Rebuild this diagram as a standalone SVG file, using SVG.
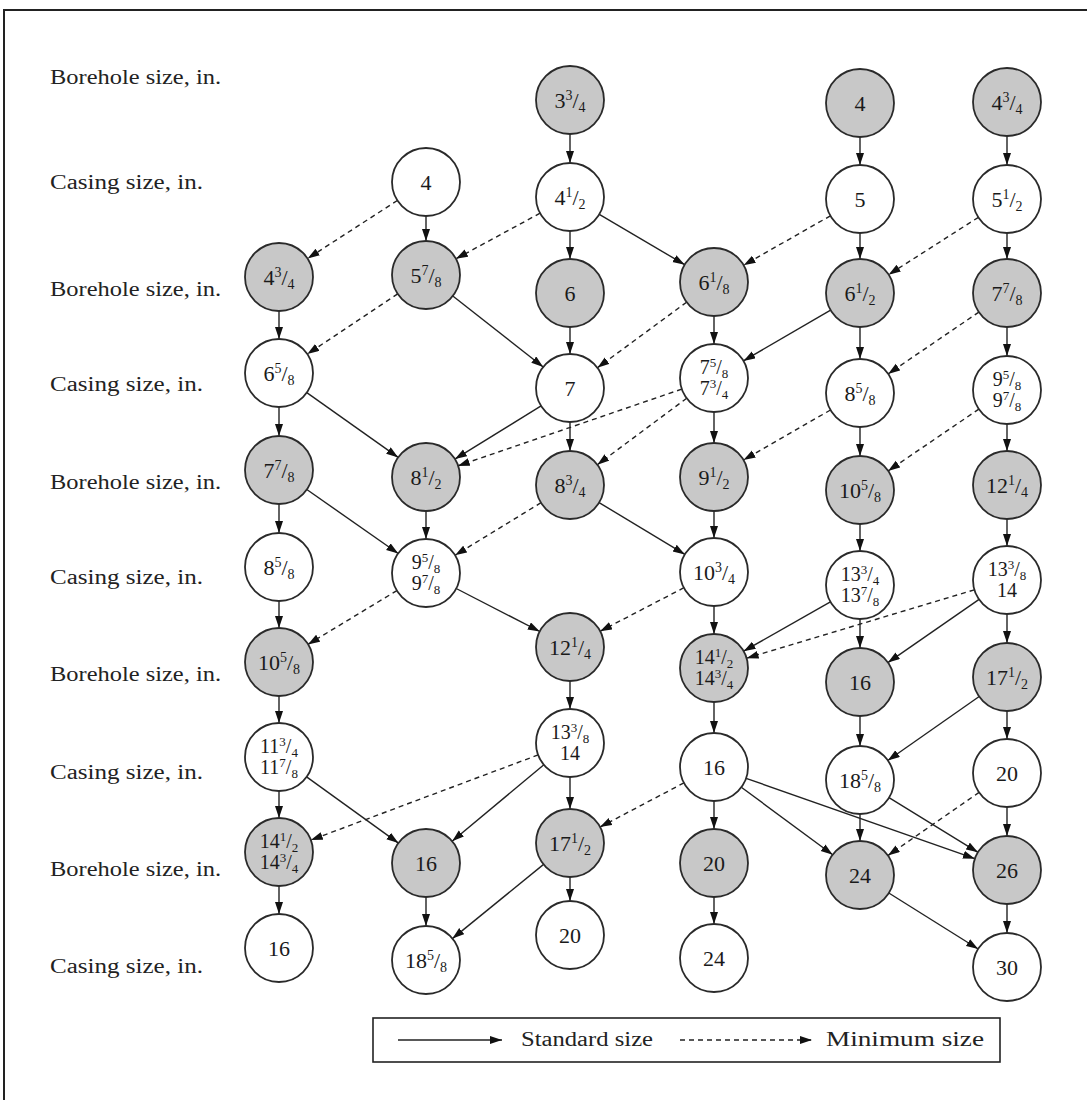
<svg xmlns="http://www.w3.org/2000/svg" width="1087" height="1100" viewBox="0 0 1087 1100">
<style>
.bg{fill:#fff}
.frame{fill:none;stroke:#222;stroke-width:2}
.lab{font-family:"Liberation Serif","Times New Roman",serif;font-size:20px;fill:#222}
circle{stroke:#2a2a2a;stroke-width:1.8}
.g circle{fill:#c8c8c8}
.w circle{fill:#fff}
.t{font-family:"Liberation Serif","Times New Roman",serif;font-size:22px;text-anchor:middle;fill:#1a1a1a}
.t2{font-family:"Liberation Serif","Times New Roman",serif;font-size:20px;text-anchor:middle;fill:#1a1a1a}
.s{font-size:14px}
.s2{font-size:13px}
#edges line{stroke:#222;stroke-width:1.4;marker-end:url(#ah)}
#edges line.d{stroke-dasharray:5 4}
.leg line{stroke:#222;stroke-width:1.4;marker-end:url(#ah)}
.leg line.d{stroke-dasharray:5 4}
</style>
<defs>
<marker id="ah" markerUnits="userSpaceOnUse" markerWidth="13" markerHeight="9" refX="12" refY="4" orient="auto">
<path d="M0,0 L12,4 L0,8 z" fill="#111"/>
</marker>
</defs>
<rect class="bg" x="0" y="0" width="1087" height="1100"/>
<path class="frame" d="M4,1100 V10 H1087"/>

<g id="row-labels">
<text class="lab" x="50" y="84" textLength="171" lengthAdjust="spacingAndGlyphs">Borehole size, in.</text>
<text class="lab" x="50" y="189" textLength="153" lengthAdjust="spacingAndGlyphs">Casing size, in.</text>
<text class="lab" x="50" y="296" textLength="171" lengthAdjust="spacingAndGlyphs">Borehole size, in.</text>
<text class="lab" x="50" y="391" textLength="153" lengthAdjust="spacingAndGlyphs">Casing size, in.</text>
<text class="lab" x="50" y="489" textLength="171" lengthAdjust="spacingAndGlyphs">Borehole size, in.</text>
<text class="lab" x="50" y="584" textLength="153" lengthAdjust="spacingAndGlyphs">Casing size, in.</text>
<text class="lab" x="50" y="681" textLength="171" lengthAdjust="spacingAndGlyphs">Borehole size, in.</text>
<text class="lab" x="50" y="779" textLength="153" lengthAdjust="spacingAndGlyphs">Casing size, in.</text>
<text class="lab" x="50" y="876" textLength="171" lengthAdjust="spacingAndGlyphs">Borehole size, in.</text>
<text class="lab" x="50" y="973" textLength="153" lengthAdjust="spacingAndGlyphs">Casing size, in.</text>
</g>

<g id="edges">
<line x1="570" y1="134" x2="570" y2="163"/>
<line x1="860" y1="137" x2="860" y2="165"/>
<line x1="1007" y1="136" x2="1007" y2="165"/>
<line x1="426" y1="216" x2="426" y2="241"/>
<line x1="570" y1="231" x2="570" y2="259"/>
<line x1="860" y1="233" x2="860" y2="259"/>
<line x1="1007" y1="233" x2="1007" y2="259"/>
<line x1="279" y1="311" x2="279" y2="339"/>
<line x1="570" y1="327" x2="570" y2="354"/>
<line x1="714" y1="316" x2="714" y2="344"/>
<line x1="860" y1="327" x2="860" y2="359"/>
<line x1="1007" y1="327" x2="1007" y2="356"/>
<line x1="279" y1="407" x2="279" y2="436"/>
<line x1="570" y1="422" x2="570" y2="451"/>
<line x1="714" y1="412" x2="714" y2="443"/>
<line x1="860" y1="427" x2="860" y2="456"/>
<line x1="1007" y1="424" x2="1007" y2="451"/>
<line x1="279" y1="504" x2="279" y2="533"/>
<line x1="426" y1="511" x2="426" y2="539"/>
<line x1="714" y1="511" x2="714" y2="538"/>
<line x1="860" y1="524" x2="860" y2="551"/>
<line x1="1007" y1="519" x2="1007" y2="546"/>
<line x1="279" y1="601" x2="279" y2="628"/>
<line x1="714" y1="606" x2="714" y2="634"/>
<line x1="860" y1="619" x2="860" y2="648"/>
<line x1="1007" y1="614" x2="1007" y2="643"/>
<line x1="279" y1="696" x2="279" y2="723"/>
<line x1="570" y1="681" x2="570" y2="709"/>
<line x1="714" y1="702" x2="714" y2="733"/>
<line x1="860" y1="716" x2="860" y2="746"/>
<line x1="1007" y1="711" x2="1007" y2="739"/>
<line x1="279" y1="791" x2="279" y2="818"/>
<line x1="570" y1="777" x2="570" y2="809"/>
<line x1="714" y1="801" x2="714" y2="829"/>
<line x1="860" y1="814" x2="860" y2="841"/>
<line x1="1007" y1="807" x2="1007" y2="836"/>
<line x1="279" y1="886" x2="279" y2="914"/>
<line x1="426" y1="897" x2="426" y2="926"/>
<line x1="570" y1="877" x2="570" y2="901"/>
<line x1="714" y1="897" x2="714" y2="924"/>
<line x1="1007" y1="904" x2="1007" y2="933"/>
<line x1="599.3" y1="214.3" x2="684.7" y2="264.7"/>
<line x1="452.8" y1="296" x2="543.2" y2="367"/>
<line x1="830.6" y1="310.1" x2="743.4" y2="360.9"/>
<line x1="306.8" y1="392.6" x2="398.2" y2="457.4"/>
<line x1="541.1" y1="405.9" x2="454.9" y2="459.1"/>
<line x1="306.8" y1="489.5" x2="398.2" y2="553.5"/>
<line x1="599.1" y1="502.6" x2="684.9" y2="554.4"/>
<line x1="456.2" y1="588.5" x2="539.8" y2="631.5"/>
<line x1="830.4" y1="601.8" x2="743.6" y2="651.2"/>
<line x1="979.1" y1="599.4" x2="887.9" y2="662.6"/>
<line x1="979.2" y1="696.5" x2="887.8" y2="760.5"/>
<line x1="306.6" y1="776.9" x2="398.4" y2="843.1"/>
<line x1="543.9" y1="764.8" x2="452.1" y2="841.2"/>
<line x1="741.3" y1="787.2" x2="832.7" y2="854.8"/>
<line x1="746.1" y1="778.3" x2="974.9" y2="858.7"/>
<line x1="889" y1="797.7" x2="978" y2="852.3"/>
<line x1="543.6" y1="864.4" x2="452.4" y2="938.6"/>
<line x1="888.8" y1="893" x2="978.2" y2="949"/>
<line class="d" x1="397.4" y1="200.5" x2="307.6" y2="258.5"/>
<line class="d" x1="540.1" y1="213.2" x2="455.9" y2="258.8"/>
<line class="d" x1="830.4" y1="215.8" x2="743.6" y2="265.2"/>
<line class="d" x1="978.4" y1="217.3" x2="888.6" y2="274.7"/>
<line class="d" x1="397.7" y1="293.9" x2="307.3" y2="354.1"/>
<line class="d" x1="686.6" y1="302.2" x2="597.4" y2="367.8"/>
<line class="d" x1="978.9" y1="312.1" x2="888.1" y2="373.9"/>
<line class="d" x1="681.8" y1="389.1" x2="457.8" y2="465.9"/>
<line class="d" x1="686.7" y1="398.3" x2="597.3" y2="464.7"/>
<line class="d" x1="830.5" y1="410" x2="743.5" y2="460"/>
<line class="d" x1="978.9" y1="409.1" x2="888.1" y2="470.9"/>
<line class="d" x1="541" y1="502.7" x2="455" y2="555.3"/>
<line class="d" x1="396.9" y1="590.6" x2="307.9" y2="644.4"/>
<line class="d" x1="683.9" y1="587.7" x2="600.1" y2="631.3"/>
<line class="d" x1="974.4" y1="589.8" x2="746.6" y2="658.2"/>
<line class="d" x1="538.2" y1="754.9" x2="310.8" y2="840.1"/>
<line class="d" x1="683.9" y1="782.9" x2="599.9" y2="827.1"/>
<line class="d" x1="979.1" y1="792.4" x2="887.9" y2="855.6"/>
</g>

<g id="n-b1-3-3-4" class="g"><circle cx="570" cy="100" r="34"/><text class="t" x="570" y="108">3<tspan class="s" dy="-8">3</tspan><tspan dy="8">/</tspan><tspan class="s" dy="4">4</tspan></text></g>
<g id="n-b1-4" class="g"><circle cx="860" cy="103" r="34"/><text class="t" x="860" y="111">4</text></g>
<g id="n-b1-4-3-4" class="g"><circle cx="1007" cy="102" r="34"/><text class="t" x="1007" y="110">4<tspan class="s" dy="-8">3</tspan><tspan dy="8">/</tspan><tspan class="s" dy="4">4</tspan></text></g>

<g id="n-c1-4" class="w"><circle cx="426" cy="182" r="34"/><text class="t" x="426" y="190">4</text></g>
<g id="n-c1-4-1-2" class="w"><circle cx="570" cy="197" r="34"/><text class="t" x="570" y="205">4<tspan class="s" dy="-8">1</tspan><tspan dy="8">/</tspan><tspan class="s" dy="4">2</tspan></text></g>
<g id="n-c1-5" class="w"><circle cx="860" cy="199" r="34"/><text class="t" x="860" y="207">5</text></g>
<g id="n-c1-5-1-2" class="w"><circle cx="1007" cy="199" r="34"/><text class="t" x="1007" y="207">5<tspan class="s" dy="-8">1</tspan><tspan dy="8">/</tspan><tspan class="s" dy="4">2</tspan></text></g>

<g id="n-b2-4-3-4" class="g"><circle cx="279" cy="277" r="34"/><text class="t" x="279" y="285">4<tspan class="s" dy="-8">3</tspan><tspan dy="8">/</tspan><tspan class="s" dy="4">4</tspan></text></g>
<g id="n-b2-5-7-8" class="g"><circle cx="426" cy="275" r="34"/><text class="t" x="426" y="283">5<tspan class="s" dy="-8">7</tspan><tspan dy="8">/</tspan><tspan class="s" dy="4">8</tspan></text></g>
<g id="n-b2-6" class="g"><circle cx="570" cy="293" r="34"/><text class="t" x="570" y="301">6</text></g>
<g id="n-b2-6-1-8" class="g"><circle cx="714" cy="282" r="34"/><text class="t" x="714" y="290">6<tspan class="s" dy="-8">1</tspan><tspan dy="8">/</tspan><tspan class="s" dy="4">8</tspan></text></g>
<g id="n-b2-6-1-2" class="g"><circle cx="860" cy="293" r="34"/><text class="t" x="860" y="301">6<tspan class="s" dy="-8">1</tspan><tspan dy="8">/</tspan><tspan class="s" dy="4">2</tspan></text></g>
<g id="n-b2-7-7-8" class="g"><circle cx="1007" cy="293" r="34"/><text class="t" x="1007" y="301">7<tspan class="s" dy="-8">7</tspan><tspan dy="8">/</tspan><tspan class="s" dy="4">8</tspan></text></g>

<g id="n-c2-6-5-8" class="w"><circle cx="279" cy="373" r="34"/><text class="t" x="279" y="381">6<tspan class="s" dy="-8">5</tspan><tspan dy="8">/</tspan><tspan class="s" dy="4">8</tspan></text></g>
<g id="n-c2-7" class="w"><circle cx="570" cy="388" r="34"/><text class="t" x="570" y="396">7</text></g>
<g id="n-c2-7-5-8" class="w"><circle cx="714" cy="378" r="34"/>
<text class="t2" x="714" y="374">7<tspan class="s2" dy="-7">5</tspan><tspan dy="7">/</tspan><tspan class="s2" dy="4">8</tspan></text>
<text class="t2" x="714" y="395">7<tspan class="s2" dy="-7">3</tspan><tspan dy="7">/</tspan><tspan class="s2" dy="4">4</tspan></text></g>
<g id="n-c2-8-5-8" class="w"><circle cx="860" cy="393" r="34"/><text class="t" x="860" y="401">8<tspan class="s" dy="-8">5</tspan><tspan dy="8">/</tspan><tspan class="s" dy="4">8</tspan></text></g>
<g id="n-c2-9-5-8" class="w"><circle cx="1007" cy="390" r="34"/>
<text class="t2" x="1007" y="386">9<tspan class="s2" dy="-7">5</tspan><tspan dy="7">/</tspan><tspan class="s2" dy="4">8</tspan></text>
<text class="t2" x="1007" y="407">9<tspan class="s2" dy="-7">7</tspan><tspan dy="7">/</tspan><tspan class="s2" dy="4">8</tspan></text></g>

<g id="n-b3-7-7-8" class="g"><circle cx="279" cy="470" r="34"/><text class="t" x="279" y="478">7<tspan class="s" dy="-8">7</tspan><tspan dy="8">/</tspan><tspan class="s" dy="4">8</tspan></text></g>
<g id="n-b3-8-1-2" class="g"><circle cx="426" cy="477" r="34"/><text class="t" x="426" y="485">8<tspan class="s" dy="-8">1</tspan><tspan dy="8">/</tspan><tspan class="s" dy="4">2</tspan></text></g>
<g id="n-b3-8-3-4" class="g"><circle cx="570" cy="485" r="34"/><text class="t" x="570" y="493">8<tspan class="s" dy="-8">3</tspan><tspan dy="8">/</tspan><tspan class="s" dy="4">4</tspan></text></g>
<g id="n-b3-9-1-2" class="g"><circle cx="714" cy="477" r="34"/><text class="t" x="714" y="485">9<tspan class="s" dy="-8">1</tspan><tspan dy="8">/</tspan><tspan class="s" dy="4">2</tspan></text></g>
<g id="n-b3-10-5-8" class="g"><circle cx="860" cy="490" r="34"/><text class="t" x="860" y="498">10<tspan class="s" dy="-8">5</tspan><tspan dy="8">/</tspan><tspan class="s" dy="4">8</tspan></text></g>
<g id="n-b3-12-1-4" class="g"><circle cx="1007" cy="485" r="34"/><text class="t" x="1007" y="493">12<tspan class="s" dy="-8">1</tspan><tspan dy="8">/</tspan><tspan class="s" dy="4">4</tspan></text></g>

<g id="n-c3-8-5-8" class="w"><circle cx="279" cy="567" r="34"/><text class="t" x="279" y="575">8<tspan class="s" dy="-8">5</tspan><tspan dy="8">/</tspan><tspan class="s" dy="4">8</tspan></text></g>
<g id="n-c3-9-5-8" class="w"><circle cx="426" cy="573" r="34"/>
<text class="t2" x="426" y="569">9<tspan class="s2" dy="-7">5</tspan><tspan dy="7">/</tspan><tspan class="s2" dy="4">8</tspan></text>
<text class="t2" x="426" y="590">9<tspan class="s2" dy="-7">7</tspan><tspan dy="7">/</tspan><tspan class="s2" dy="4">8</tspan></text></g>
<g id="n-c3-10-3-4" class="w"><circle cx="714" cy="572" r="34"/><text class="t" x="714" y="580">10<tspan class="s" dy="-8">3</tspan><tspan dy="8">/</tspan><tspan class="s" dy="4">4</tspan></text></g>
<g id="n-c3-13-3-4" class="w"><circle cx="860" cy="585" r="34"/>
<text class="t2" x="860" y="581">13<tspan class="s2" dy="-7">3</tspan><tspan dy="7">/</tspan><tspan class="s2" dy="4">4</tspan></text>
<text class="t2" x="860" y="602">13<tspan class="s2" dy="-7">7</tspan><tspan dy="7">/</tspan><tspan class="s2" dy="4">8</tspan></text></g>
<g id="n-c3-13-3-8" class="w"><circle cx="1007" cy="580" r="34"/>
<text class="t2" x="1007" y="576">13<tspan class="s2" dy="-7">3</tspan><tspan dy="7">/</tspan><tspan class="s2" dy="4">8</tspan></text>
<text class="t2" x="1007" y="597">14</text></g>

<g id="n-b4-10-5-8" class="g"><circle cx="279" cy="662" r="34"/><text class="t" x="279" y="670">10<tspan class="s" dy="-8">5</tspan><tspan dy="8">/</tspan><tspan class="s" dy="4">8</tspan></text></g>
<g id="n-b4-12-1-4" class="g"><circle cx="570" cy="647" r="34"/><text class="t" x="570" y="655">12<tspan class="s" dy="-8">1</tspan><tspan dy="8">/</tspan><tspan class="s" dy="4">4</tspan></text></g>
<g id="n-b4-14-1-2" class="g"><circle cx="714" cy="668" r="34"/>
<text class="t2" x="714" y="664">14<tspan class="s2" dy="-7">1</tspan><tspan dy="7">/</tspan><tspan class="s2" dy="4">2</tspan></text>
<text class="t2" x="714" y="685">14<tspan class="s2" dy="-7">3</tspan><tspan dy="7">/</tspan><tspan class="s2" dy="4">4</tspan></text></g>
<g id="n-b4-16" class="g"><circle cx="860" cy="682" r="34"/><text class="t" x="860" y="690">16</text></g>
<g id="n-b4-17-1-2" class="g"><circle cx="1007" cy="677" r="34"/><text class="t" x="1007" y="685">17<tspan class="s" dy="-8">1</tspan><tspan dy="8">/</tspan><tspan class="s" dy="4">2</tspan></text></g>

<g id="n-c4-11-3-4" class="w"><circle cx="279" cy="757" r="34"/>
<text class="t2" x="279" y="753">11<tspan class="s2" dy="-7">3</tspan><tspan dy="7">/</tspan><tspan class="s2" dy="4">4</tspan></text>
<text class="t2" x="279" y="774">11<tspan class="s2" dy="-7">7</tspan><tspan dy="7">/</tspan><tspan class="s2" dy="4">8</tspan></text></g>
<g id="n-c4-13-3-8" class="w"><circle cx="570" cy="743" r="34"/>
<text class="t2" x="570" y="739">13<tspan class="s2" dy="-7">3</tspan><tspan dy="7">/</tspan><tspan class="s2" dy="4">8</tspan></text>
<text class="t2" x="570" y="760">14</text></g>
<g id="n-c4-16" class="w"><circle cx="714" cy="767" r="34"/><text class="t" x="714" y="775">16</text></g>
<g id="n-c4-18-5-8" class="w"><circle cx="860" cy="780" r="34"/><text class="t" x="860" y="788">18<tspan class="s" dy="-8">5</tspan><tspan dy="8">/</tspan><tspan class="s" dy="4">8</tspan></text></g>
<g id="n-c4-20" class="w"><circle cx="1007" cy="773" r="34"/><text class="t" x="1007" y="781">20</text></g>

<g id="n-b5-14-1-2" class="g"><circle cx="279" cy="852" r="34"/>
<text class="t2" x="279" y="848">14<tspan class="s2" dy="-7">1</tspan><tspan dy="7">/</tspan><tspan class="s2" dy="4">2</tspan></text>
<text class="t2" x="279" y="869">14<tspan class="s2" dy="-7">3</tspan><tspan dy="7">/</tspan><tspan class="s2" dy="4">4</tspan></text></g>
<g id="n-b5-16" class="g"><circle cx="426" cy="863" r="34"/><text class="t" x="426" y="871">16</text></g>
<g id="n-b5-17-1-2" class="g"><circle cx="570" cy="843" r="34"/><text class="t" x="570" y="851">17<tspan class="s" dy="-8">1</tspan><tspan dy="8">/</tspan><tspan class="s" dy="4">2</tspan></text></g>
<g id="n-b5-20" class="g"><circle cx="714" cy="863" r="34"/><text class="t" x="714" y="871">20</text></g>
<g id="n-b5-24" class="g"><circle cx="860" cy="875" r="34"/><text class="t" x="860" y="883">24</text></g>
<g id="n-b5-26" class="g"><circle cx="1007" cy="870" r="34"/><text class="t" x="1007" y="878">26</text></g>

<g id="n-c5-16" class="w"><circle cx="279" cy="948" r="34"/><text class="t" x="279" y="956">16</text></g>
<g id="n-c5-18-5-8" class="w"><circle cx="426" cy="960" r="34"/><text class="t" x="426" y="968">18<tspan class="s" dy="-8">5</tspan><tspan dy="8">/</tspan><tspan class="s" dy="4">8</tspan></text></g>
<g id="n-c5-20" class="w"><circle cx="570" cy="935" r="34"/><text class="t" x="570" y="943">20</text></g>
<g id="n-c5-24" class="w"><circle cx="714" cy="958" r="34"/><text class="t" x="714" y="966">24</text></g>
<g id="n-c5-30" class="w"><circle cx="1007" cy="967" r="34"/><text class="t" x="1007" y="975">30</text></g>

<g id="legend" class="leg">
<rect x="373" y="1018" width="627" height="44" fill="#fff" stroke="#222" stroke-width="1.6"/>
<line x1="398" y1="1040" x2="502" y2="1040"/>
<text class="lab" x="521" y="1046" textLength="132" lengthAdjust="spacingAndGlyphs">Standard size</text>
<line class="d" x1="680" y1="1040" x2="812" y2="1040"/>
<text class="lab" x="826" y="1046" textLength="158" lengthAdjust="spacingAndGlyphs">Minimum size</text>
</g>
</svg>
